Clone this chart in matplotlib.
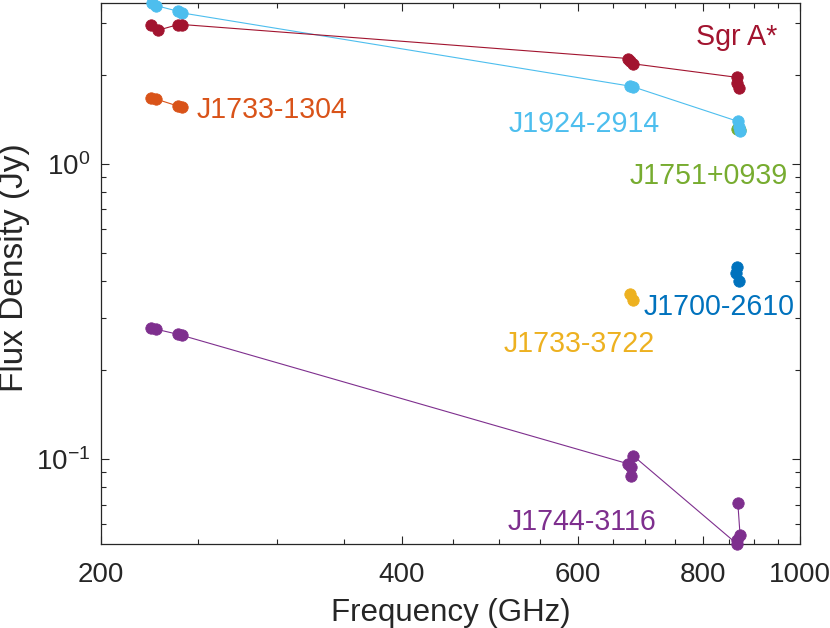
import math
import matplotlib
matplotlib.use('Agg')
import matplotlib.pyplot as plt
from matplotlib.ticker import FixedLocator, FixedFormatter, NullFormatter, FuncFormatter

plt.rcParams['font.family'] = ['Liberation Sans', 'DejaVu Sans']
plt.rcParams['mathtext.fontset'] = 'custom'
plt.rcParams['mathtext.rm'] = 'Liberation Sans'
plt.rcParams['mathtext.it'] = 'Liberation Sans:italic'
plt.rcParams['mathtext.bf'] = 'Liberation Sans:bold'

# ---------------- data ----------------
sources = ['J1700-2610', 'J1733-1304', 'J1733-3722', 'J1744-3116',
           'J1751+0939', 'J1924-2914', 'Sgr A*']
colors = ['#0072BD', '#D95319', '#EDB120', '#7E2F8E',
          '#77AC30', '#4DBEEE', '#A2142F']

freq_j1700_2610 = [865, 863, 869]
flux_j1700_2610 = [0.445, 0.425, 0.400]

freq_j1733_1304 = [224.5, 227, 239, 241]
flux_j1733_1304 = [1.665, 1.655, 1.565, 1.555]

freq_j1733_3722 = [676, 681]
flux_j1733_3722 = [0.362, 0.346]

freq_j1744_3116 = [224.5, 227, 239, 241, 673.5, 678, 677, 681.3, 865, 865, 871, 866.5]
flux_j1744_3116 = [0.277, 0.275, 0.264, 0.262, 0.0962, 0.0876, 0.0939, 0.1024,
                   0.0515, 0.0531, 0.0553, 0.0711]

freq_j1751_0939 = [865, 870]
flux_j1751_0939 = [1.315, 1.300]

freq_j1924_2914 = [225, 227, 239, 241, 676.5, 681, 867, 869, 871]
flux_j1924_2914 = [3.50, 3.43, 3.28, 3.24, 1.83, 1.82, 1.39, 1.335, 1.285]

freq_sgra = [224.5, 228, 239, 241, 673.5, 676, 680, 865, 865, 869]
flux_sgra = [2.94, 2.83, 2.96, 2.96, 2.27, 2.22, 2.18, 1.96, 1.88, 1.80]

freqs = [freq_j1700_2610, freq_j1733_1304, freq_j1733_3722, freq_j1744_3116,
         freq_j1751_0939, freq_j1924_2914, freq_sgra]
fluxes = [flux_j1700_2610, flux_j1733_1304, flux_j1733_3722, flux_j1744_3116,
          flux_j1751_0939, flux_j1924_2914, flux_sgra]

# label anchor (left, baseline) in data coordinates
label_x = [697, 249, 505.8, 510.5, 676, 511.7, 787]
label_y = [0.3077, 1.432, 0.2306, 0.05745, 0.855, 1.284, 2.53]

x_major = [200, 400, 600, 800, 1000]
x_major_labels = ['200', '400', '600', '800', '1000']
x_minor = [250, 300, 350, 450, 500, 550, 650, 700, 750, 850, 900, 950]
y_major = [0.1, 1.0]
y_minor = [0.06, 0.07, 0.08, 0.09, 0.2, 0.3, 0.4, 0.5, 0.6, 0.7, 0.8, 0.9, 2, 3]
x_limits = [200, 1000]

# ---------------- plot ----------------
fig = plt.figure(figsize=(8.30, 6.28), dpi=100)
ax = fig.add_axes([0.1217, 0.1338, 0.8422, 0.8614])
ax.set_xscale('log')
ax.set_yscale('log')

for name, c, fx, fy, lx, ly in zip(sources, colors, freqs, fluxes, label_x, label_y):
    ax.plot(fx, fy, '-', color=c, lw=0.8, marker='o', ms=8.2, mfc=c, mec=c,
            mew=0.6, clip_on=False, zorder=3)
    ax.text(lx, ly, name, color=c, fontsize=20.6, ha='left', va='baseline')

all_flux = [v for f in fluxes for v in f]
ax.set_xlim(x_limits)
ax.set_ylim(min(all_flux), max(all_flux))

ax.xaxis.set_major_locator(FixedLocator(x_major))
ax.xaxis.set_major_formatter(FixedFormatter(x_major_labels))
ax.xaxis.set_minor_locator(FixedLocator(x_minor))
ax.xaxis.set_minor_formatter(NullFormatter())
ax.yaxis.set_major_locator(FixedLocator(y_major))
ax.yaxis.set_major_formatter(FuncFormatter(
    lambda v, p: r'$\mathregular{10^{%d}}$' % round(math.log10(v))))
ax.yaxis.set_minor_locator(FixedLocator(y_minor))
ax.yaxis.set_minor_formatter(NullFormatter())

tc = '#262626'
for s in ax.spines.values():
    s.set_color(tc)
    s.set_linewidth(0.9)
ax.tick_params(which='both', direction='in', top=True, right=True,
               colors=tc, labelcolor=tc, width=0.8)
ax.tick_params(which='major', length=6, labelsize=20)
ax.tick_params(axis='x', which='major', pad=13)
ax.tick_params(axis='y', which='major', pad=8)
ax.tick_params(which='minor', length=3.5)

ax.set_xlabel('Frequency (GHz)', fontsize=22.5, color=tc)
ax.set_ylabel('Flux Density (Jy)', fontsize=24, color=tc)
ax.xaxis.set_label_coords(0.5, -0.099)
ax.yaxis.set_label_coords(-0.102, 0.51)

fig.savefig('out.png', dpi=100)
